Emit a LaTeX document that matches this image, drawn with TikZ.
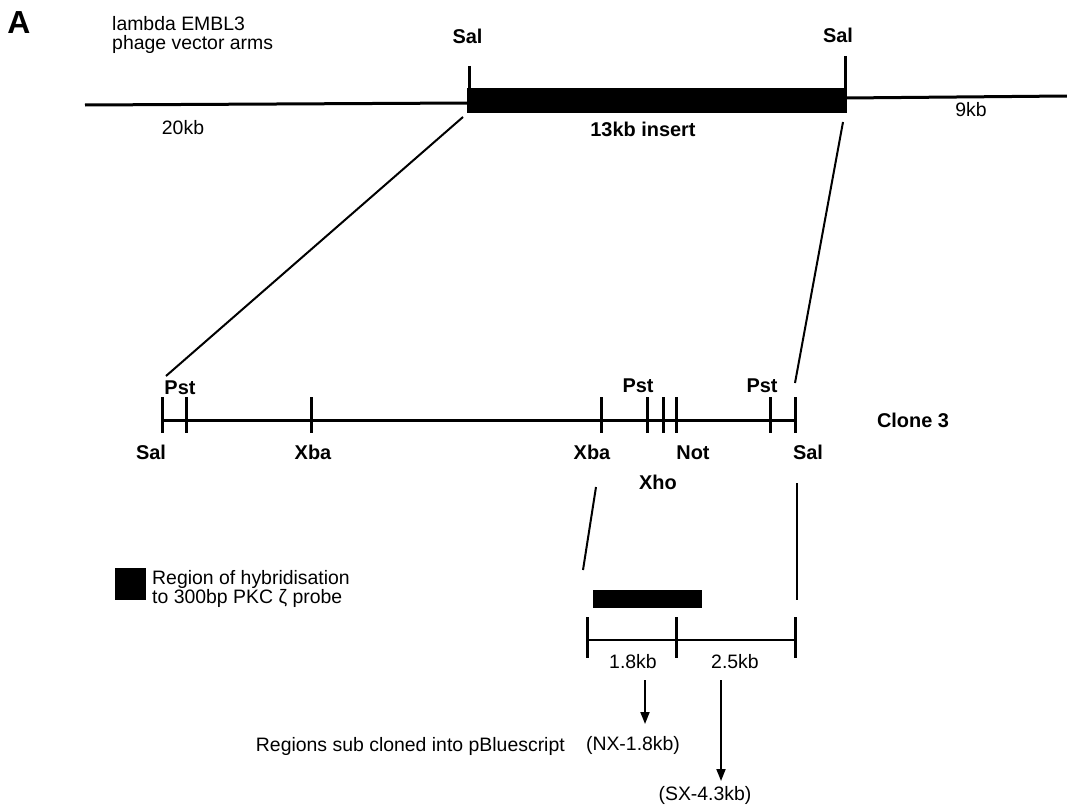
\documentclass[tikz,border=0pt]{standalone}
\usepackage{fontspec}
\setmainfont{Liberation Sans}
\usetikzlibrary{arrows.meta}
\tikzset{
  lbl/.style={inner sep=0pt, font=\fontsize{19.5}{19.5}\selectfont},
  blbl/.style={inner sep=0pt, anchor=base, font=\fontsize{20}{20}\selectfont\bfseries},
  dna/.style={line width=3bp},
  site/.style={line width=3bp},
  link/.style={line width=2bp},
  arr/.style={line width=1.8bp, -{Triangle[length=12bp,width=9bp]}}
}
\begin{document}
\begin{tikzpicture}[x=1bp,y=-1bp]
\useasboundingbox (0,0) rectangle (1067,809);
\fill[white] (0,0) rectangle (1067,809);

% panel letter and title
\node[inner sep=0pt, font=\fontsize{32}{32}\selectfont\bfseries] (A) at (19,23) {A};
\node[lbl, anchor=base west] (t1) at (112,31) {lambda EMBL3};
\node[lbl, anchor=base west] (t2) at (112,49.5) {phage vector arms};

% top vector map
\coordinate (L0) at (85,105);
\coordinate (L1) at (468,103);
\coordinate (R0) at (846,98);
\coordinate (R1) at (1067,96);
\draw[dna] (L0) -- (L1);
\draw[dna] (R0) -- (R1);
\fill (467,88) rectangle (847,113);
\coordinate (s1a) at (469,66); \coordinate (s1b) at (469,89);
\coordinate (s2a) at (845,56); \coordinate (s2b) at (845,89);
\draw[site] (s1a) -- (s1b);
\draw[site] (s2a) -- (s2b);
\node[blbl] (sal1) at (467.5,44) {Sal};
\node[blbl] (sal2) at (838,43) {Sal};
\node[lbl] (kb20) at (183,128) {20kb};
\node[blbl] (kb13) at (643,136) {13kb insert};
\node[lbl] (kb9) at (971,110) {9kb};

% expansion lines
\coordinate (d1a) at (463,117); \coordinate (d1b) at (166,376);
\coordinate (d2a) at (843,122); \coordinate (d2b) at (795,383);
\draw[link] (d1a) -- (d1b);
\draw[link] (d2a) -- (d2b);

% clone 3 map
\coordinate (c0) at (163,420); \coordinate (c1) at (795,420);
\draw[dna] (c0) -- (c1);
\foreach \x/\n in {162/a,186/b,311/c,601/d,647/e,663/f,676/g,770/h,795/i}{
  \draw[site] (\x,397) coordinate (k\n) -- (\x,433);
}
\node[blbl] (pst1) at (180,394) {Pst};
\node[blbl] (sal3) at (151,459) {Sal};
\node[blbl] (xba1) at (313,459) {Xba};
\node[blbl] (pst2) at (638,392) {Pst};
\node[blbl] (pst3) at (762,392) {Pst};
\node[blbl] (xba2) at (592,459) {Xba};
\node[blbl] (not) at (693,459) {Not};
\node[blbl] (sal4) at (808,459) {Sal};
\node[blbl] (xho) at (658,489) {Xho};
\node[blbl] (clone) at (913,427) {Clone 3};

% expansion to sub-region
\coordinate (e1a) at (596,487); \coordinate (e1b) at (583,570);
\coordinate (e2a) at (797,483); \coordinate (e2b) at (797,600);
\draw[link] (e1a) -- (e1b);
\draw[link] (e2a) -- (e2b);

% legend
\fill (115,568) rectangle (146,600);
\node[lbl, anchor=base west] (leg1) at (152,584.5) {Region of hybridisation};
\node[lbl, anchor=base west] (leg2) at (152,603.5) {to 300bp PKC ζ probe};

% sub-region map
\fill (593,590) rectangle (702,608);
\coordinate (m0) at (587,640); \coordinate (m1) at (795,640);
\draw[line width=2.5bp] (m0) -- (m1);
\foreach \x/\n in {587/p,676/q,795/r}{
  \draw[site] (\x,617) coordinate (t\n) -- (\x,658);
}
\node[lbl, anchor=base] (kb18) at (633,668) {1.8kb};
\node[lbl, anchor=base] (kb25) at (735,668) {2.5kb};

% arrows to subclones
\node[lbl] (nx) at (633,745) {(NX-1.8kb)};
\node[lbl] (sx) at (705,795) {(SX-4.3kb)};
\coordinate (a1) at (645,680); \coordinate (a1e) at (645,724);
\coordinate (a2) at (721,680); \coordinate (a2e) at (721,781);
\draw[arr] (a1) -- (a1e);
\draw[arr] (a2) -- (a2e);
\node[lbl, anchor=base east] (sub) at (565,751) {Regions sub cloned into pBluescript};
\end{tikzpicture}
\end{document}
